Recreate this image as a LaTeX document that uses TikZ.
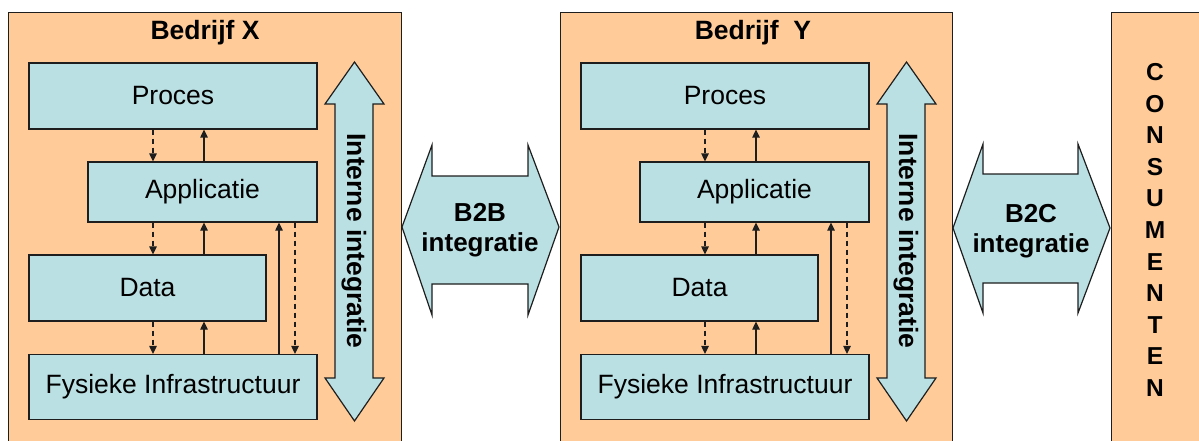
\documentclass[tikz,border=0pt]{standalone}
\usepackage{fontspec}
\setmainfont{Liberation Sans}
\usetikzlibrary{arrows.meta}
\definecolor{peach}{HTML}{FFCC99}
\definecolor{lblue}{HTML}{BBE0E3}
\definecolor{edge}{HTML}{1E1E1E}
\tikzset{
  frame/.style={draw=edge, fill=peach, line width=1.2pt},
  layer/.style={draw=edge, fill=lblue, line width=1.2pt, inner sep=0pt,
    font=\fontsize{26.5}{30}\selectfont},
  bigarrow/.style={draw=edge, fill=lblue, line width=1.2pt, line join=miter},
  title/.style={font=\fontsize{26.5}{30}\selectfont\bfseries, inner sep=0pt},
  up/.style={draw=edge, line width=1.2pt, -{Triangle[length=8pt,width=7.5pt]}},
  down/.style={draw=edge, line width=1.2pt, dash pattern=on 5pt off 4pt, -{Triangle[length=8pt,width=7.5pt]}},
}
\begin{document}
\begin{tikzpicture}[x=1pt,y=-1pt]
\useasboundingbox (0,0) rectangle (1199,441);
\clip (0,0) rectangle (1199,441);

% ---------- Bedrijf X ----------
\node[frame, anchor=north west, minimum width=393pt, minimum height=450pt] (bx) at (8,12) {};
\node[title] (tx) at (205,33) {Bedrijf X};
\node[layer, minimum width=288pt, minimum height=66pt] (procX) at (173,96) {Proces};
\node[layer, minimum width=229pt, minimum height=60pt] (appX) at (202.5,192) {Applicatie};
\node[layer, minimum width=237pt, minimum height=66pt] (dataX) at (147.5,288) {Data};
\node[layer, minimum width=288pt, minimum height=65pt] (fysX) at (173,387) {Fysieke Infrastructuur};
\coordinate (xa) at (153,0);
\coordinate (xb) at (204,0);
\coordinate (xc) at (279,0);
\coordinate (xd) at (295,0);
\draw[down] (procX.south -| xa) -- (appX.north -| xa);
\draw[up] (appX.north -| xb) -- (procX.south -| xb);
\draw[down] (appX.south -| xa) -- (dataX.north -| xa);
\draw[up] (dataX.north -| xb) -- (appX.south -| xb);
\draw[down] (dataX.south -| xa) -- (fysX.north -| xa);
\draw[up] (fysX.north -| xb) -- (dataX.south -| xb);
\draw[up] (fysX.north -| xc) -- (appX.south -| xc);
\draw[down] (appX.south -| xd) -- (fysX.north -| xd);
\filldraw[bigarrow] (354.5,62) -- (384,104) -- (373,104) -- (373,378) -- (384,378) -- (354.5,421)
  -- (325,378) -- (335,378) -- (335,104) -- (325,104) -- cycle;
\node[title, rotate=-90] (intX) at (354,241) {Interne integratie};

% ---------- Bedrijf Y ----------
\begin{scope}[xshift=552pt]
\node[frame, anchor=north west, minimum width=392pt, minimum height=450pt] (by) at (8,12) {};
\node[layer, minimum width=288pt, minimum height=66pt] (procY) at (173,96) {Proces};
\node[layer, minimum width=229pt, minimum height=60pt] (appY) at (202.5,192) {Applicatie};
\node[layer, minimum width=237pt, minimum height=66pt] (dataY) at (147.5,288) {Data};
\node[layer, minimum width=288pt, minimum height=65pt] (fysY) at (173,387) {Fysieke Infrastructuur};
\coordinate (ya) at (153,0);
\coordinate (yb) at (204,0);
\coordinate (yc) at (279,0);
\coordinate (yd) at (295,0);
\filldraw[bigarrow] (354.5,62) -- (384,104) -- (373,104) -- (373,378) -- (384,378) -- (354.5,421)
  -- (325,378) -- (335,378) -- (335,104) -- (325,104) -- cycle;
\node[title, rotate=-90] (intY) at (354,241) {Interne integratie};
\end{scope}
\node[title] (ty) at (753,33) {Bedrijf\ \ Y};
\draw[down] (procY.south -| ya) -- (appY.north -| ya);
\draw[up] (appY.north -| yb) -- (procY.south -| yb);
\draw[down] (appY.south -| ya) -- (dataY.north -| ya);
\draw[up] (dataY.north -| yb) -- (appY.south -| yb);
\draw[down] (dataY.south -| ya) -- (fysY.north -| ya);
\draw[up] (fysY.north -| yb) -- (dataY.south -| yb);
\draw[up] (fysY.north -| yc) -- (appY.south -| yc);
\draw[down] (appY.south -| yd) -- (fysY.north -| yd);

% ---------- B2B ----------
\filldraw[bigarrow] (402,227) -- (432,145) -- (432,176) -- (528,176) -- (528,145) -- (559,227)
  -- (528,315) -- (528,284) -- (432,284) -- (432,315) -- cycle;
\node[title, align=center, font=\fontsize{26}{30}\selectfont\bfseries] (b2b) at (480,230) {B2B\\integratie};

% ---------- B2C ----------
\filldraw[bigarrow] (953,228) -- (983,144) -- (983,174) -- (1078,174) -- (1078,144) -- (1110,228)
  -- (1078,313) -- (1078,283) -- (983,283) -- (983,313) -- cycle;
\node[title, align=center, font=\fontsize{26}{30}\selectfont\bfseries] (b2c) at (1031,231) {B2C\\integratie};

% ---------- Consumenten ----------
\node[frame, anchor=north west, minimum width=100pt, minimum height=450pt] (cons) at (1111,12) {};
\node[title, align=center, font=\fontsize{24.5}{31.6}\selectfont\bfseries] (ctext) at (1155,230)
  {C\\O\\N\\S\\U\\M\\E\\N\\T\\E\\N};
\end{tikzpicture}
\end{document}
